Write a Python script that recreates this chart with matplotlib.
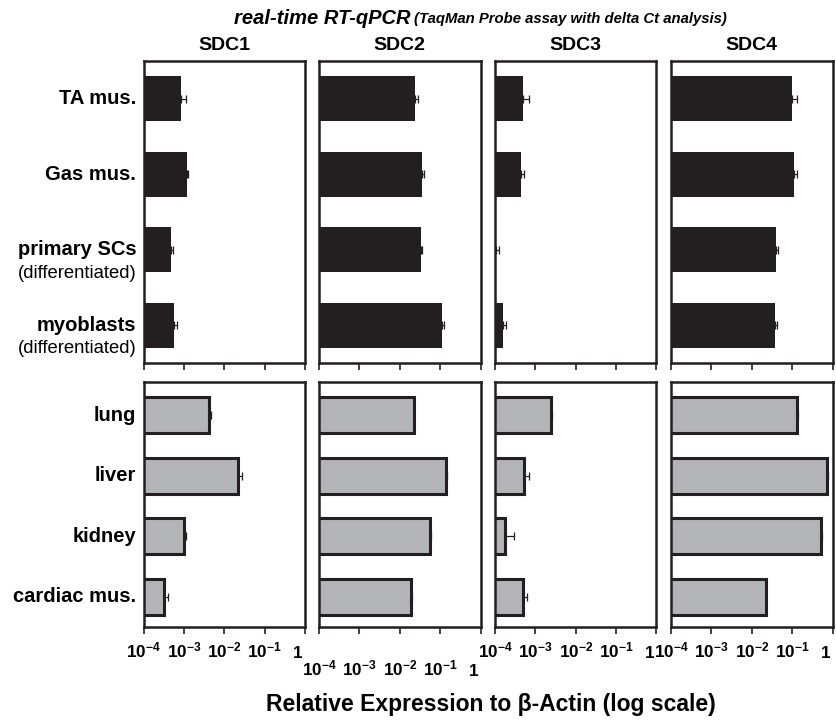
import numpy as np
import matplotlib
matplotlib.use('Agg')
import matplotlib.pyplot as plt
import matplotlib.transforms as mtrans

plt.rcParams['font.family'] = ['Liberation Sans', 'DejaVu Sans']
plt.rcParams['mathtext.fontset'] = 'custom'
plt.rcParams['mathtext.rm'] = 'Liberation Sans'
plt.rcParams['mathtext.bf'] = 'Liberation Sans:bold'

#---------DATA------------
genes = ['SDC1', 'SDC2', 'SDC3', 'SDC4']

muscle_names = ['TA mus.', 'Gas mus.', 'primary SCs', 'myoblasts']
muscle_sub = ['', '', '(differentiated)', '(differentiated)']
tissue_names = ['lung', 'liver', 'kidney', 'cardiac mus.']

# relative expression (mean) and upper error, one row per gene
muscle_vals = [
    [8.7e-4, 1.2e-3, 4.7e-4, 5.6e-4],
    [0.0235, 0.036, 0.033, 0.109],
    [5.0e-4, 4.3e-4, 1.05e-4, 1.6e-4],
    [0.102, 0.11, 0.039, 0.038],
]
muscle_err = [
    [2.8e-4, 0.6e-4, 0.8e-4, 1.0e-4],
    [0.005, 0.004, 0.002, 0.017],
    [1.8e-4, 0.9e-4, 0.2e-4, 0.3e-4],
    [0.030, 0.022, 0.005, 0.005],
]
tissue_vals = [
    [4.1e-3, 0.0224, 9.9e-4, 3.2e-4],
    [0.022, 0.138, 0.057, 0.0195],
    [2.45e-3, 5.3e-4, 1.8e-4, 5.0e-4],
    [0.131, 0.74, 0.52, 0.022],
]
tissue_err = [
    [0.5e-3, 0.005, 1.4e-4, 0.8e-4],
    [0.001, 0.007, 0.002, 0.001],
    [0.1e-3, 1.8e-4, 1.1e-4, 1.2e-4],
    [0.006, 0.03, 0.02, 0.001],
]

xticks = [1e-4, 1e-3, 1e-2, 1e-1, 1]
xticklabels = [r'$\mathbf{10^{-4}}$', r'$\mathbf{10^{-3}}$', r'$\mathbf{10^{-2}}$',
               r'$\mathbf{10^{-1}}$', r'$\mathbf{1}$']

#---------FIGURE------------
W, H = 836, 723
fig = plt.figure(figsize=(W/100, H/100), dpi=100)

dark = '#231f20'
grey = '#b3b4b7'
col_left = [143.5, 319, 495, 671]
col_w = 161.5

def style_axis(ax, labels_on, pad):
    ax.set_xscale('log')
    ax.set_xlim(1e-4, 1)
    for s in ax.spines.values():
        s.set_linewidth(1.8)
        s.set_color(dark)
    ax.set_xticks(xticks)
    ax.tick_params(axis='x', which='major', length=5, width=1.2, color=dark,
                   direction='out', pad=pad)
    ax.tick_params(axis='x', which='minor', length=3, width=0.8, color=dark,
                   direction='out')
    ax.set_yticks([])
    if labels_on:
        labs = ax.set_xticklabels(xticklabels, fontsize=12.3)
        for lab in labs:
            lab.set_verticalalignment('baseline')
        # pull the "1" a little inward, as in the original figure
        shift = mtrans.ScaledTranslation(-7/100, 0, fig.dpi_scale_trans)
        labs[-1].set_transform(labs[-1].get_transform() + shift)
    else:
        ax.set_xticklabels([])

def draw_bars(ax, vals, err, face, edge, lw):
    y = np.arange(len(vals))
    vals = np.array(vals)
    err = np.array(err)
    ax.barh(y, vals - 1e-5, left=1e-5, height=0.6, color=face, edgecolor=edge,
            linewidth=lw, zorder=2)
    ax.errorbar(vals, y, xerr=[np.zeros(len(vals)), err], fmt='none',
                ecolor=dark, elinewidth=0.9, capsize=3, capthick=0.9, zorder=1)

for i, g in enumerate(genes):
    x0 = col_left[i] / W
    # top row (muscle)
    ax1 = fig.add_axes([x0, 1 - 363/H, col_w/W, 302/H])
    draw_bars(ax1, muscle_vals[i], muscle_err[i], dark, 'none', 0)
    ax1.set_ylim(3.5, -0.5)
    style_axis(ax1, False, 3)
    ax1.set_title(g, fontsize=14, fontweight='bold', pad=8)

    # bottom row (tissues)
    ax2 = fig.add_axes([x0, 1 - 627/H, col_w/W, 245/H])
    draw_bars(ax2, tissue_vals[i], tissue_err[i], grey, dark, 2.2)
    ax2.set_ylim(3.5, -0.55)
    style_axis(ax2, True, 30 if i == 1 else 17)

    if i == 0:
        tr1 = mtrans.blended_transform_factory(ax1.transAxes, ax1.transData)
        for k, name in enumerate(muscle_names):
            ax1.text(-0.045, k, name, transform=tr1, ha='right', va='center',
                     fontsize=14.5, fontweight='bold')
            if muscle_sub[k]:
                ax1.text(-0.045, k + 0.31, muscle_sub[k], transform=tr1,
                         ha='right', va='center', fontsize=13.3)
        tr2 = mtrans.blended_transform_factory(ax2.transAxes, ax2.transData)
        for k, name in enumerate(tissue_names):
            ax2.text(-0.045, k, name, transform=tr2, ha='right', va='center',
                     fontsize=14.5, fontweight='bold')

fig.text(410/W, 1 - 18/H, 'real-time RT-qPCR', ha='right', va='center',
         fontsize=14.5, fontweight='bold', style='italic')
fig.text(414/W, 1 - 19/H, '(TaqMan Probe assay with delta Ct analysis)',
         ha='left', va='center', fontsize=10.7, fontweight='bold', style='italic')

fig.text(491/W, 1 - 705/H, 'Relative Expression to \u03b2-Actin (log scale)',
         ha='center', va='center', fontsize=16.5, fontweight='bold')

fig.savefig('out.png', dpi=100)
